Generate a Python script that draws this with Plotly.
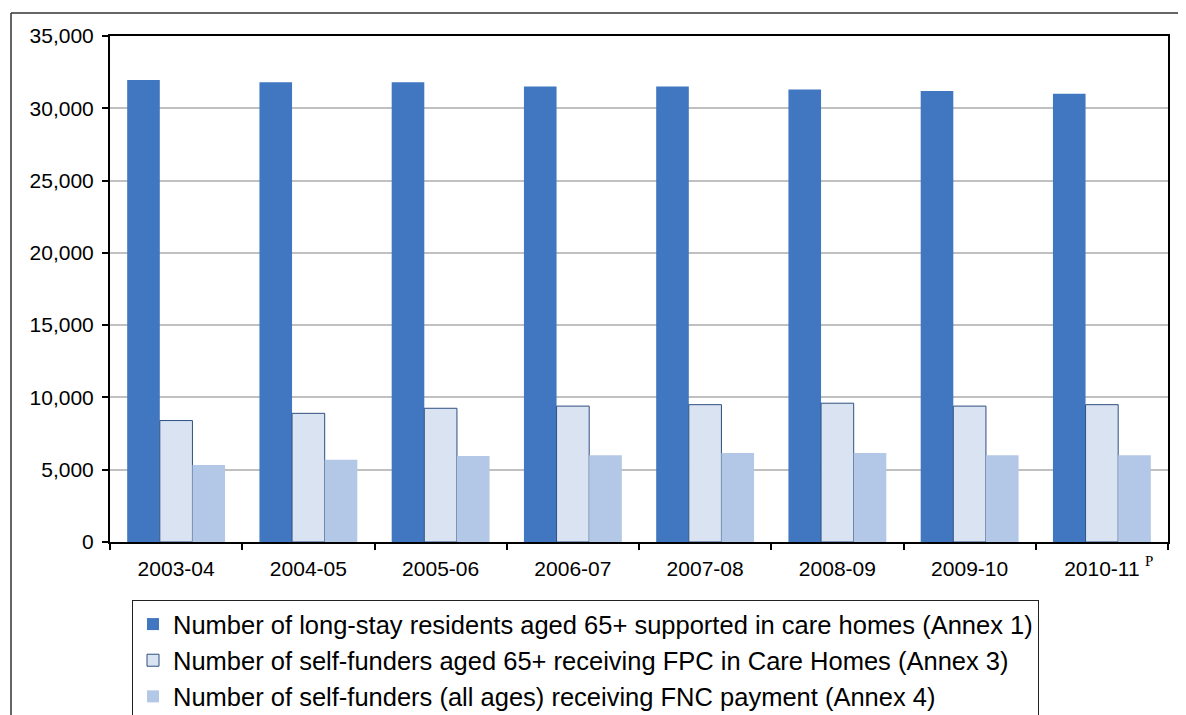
import plotly.graph_objects as go

years = ["2003-04", "2004-05", "2005-06", "2006-07", "2007-08", "2008-09", "2009-10", "2010-11"]
residents_65 = [31950, 31800, 31800, 31500, 31500, 31300, 31200, 31000]
fpc_self_funders = [8400, 8900, 9250, 9400, 9500, 9600, 9400, 9500]
fnc_self_funders = [5330, 5690, 5950, 6000, 6150, 6150, 6000, 6000]

names = [
    "Number of long-stay residents aged 65+ supported in care homes (Annex 1)",
    "Number of self-funders aged 65+ receiving FPC in Care Homes (Annex 3)",
    "Number of self-funders (all ages) receiving FNC payment (Annex 4)",
]
y_ticks = [0, 5000, 10000, 15000, 20000, 25000, 30000, 35000]

FONT = "Arial, Liberation Sans, sans-serif"
OFF = 8  # page body margin
W, H = 1186 - OFF, 715 - OFF
L, R, T, B = 110 - OFF, 18, 36 - OFF, 173
pw, ph = W - L - R, H - T - B

def px_x(x):
    return (x - OFF - L) / pw

def px_y(y):
    return (H - B - (y - OFF)) / ph

fig = go.Figure()
fig.add_bar(x=years, y=residents_65, name=names[0], legendgroup="a",
            marker=dict(color="#4177C1", line=dict(width=0)))
fig.add_bar(x=years, y=fpc_self_funders, name=names[1], legendgroup="b",
            marker=dict(color="#D9E3F1", line=dict(color="#2F4F80", width=1)))
fig.add_bar(x=years, y=fnc_self_funders, name=names[2], legendgroup="c",
            marker=dict(color="#B3C7E6", line=dict(width=0)))

fig.update_layout(
    width=W, height=H,
    margin=dict(l=L, r=R, t=T, b=B, autoexpand=False),
    paper_bgcolor="white", plot_bgcolor="white",
    barmode="group", bargap=0.26, bargroupgap=0,
    font=dict(family=FONT, size=21, color="black"),
    showlegend=True,
    legend=dict(
        x=px_x(132), y=px_y(600), xanchor="left", yanchor="top",
        bordercolor="#222222", borderwidth=1, bgcolor="white",
        font=dict(family=FONT, size=25.5, color="black"),
        tracegroupgap=0, traceorder="grouped",
    ),
    xaxis=dict(
        type="category", showgrid=False, tickson="boundaries",
        ticks="outside", ticklen=6, tickcolor="black", tickwidth=1.5,
        showline=True, linecolor="black", linewidth=2, mirror=True,
        tickfont=dict(family=FONT, size=21, color="black"),
        ticklabelstandoff=7,
    ),
    yaxis=dict(
        range=[0, 35000], tickvals=y_ticks,
        ticktext=[f"{v:,}" for v in y_ticks],
        showgrid=True, gridcolor="#C0C0C0", gridwidth=1.5,
        ticks="outside", ticklen=6, tickcolor="black", tickwidth=1.5,
        showline=True, linecolor="black", linewidth=2, mirror=True,
        tickfont=dict(family=FONT, size=21, color="black"),
        ticklabelstandoff=4,
        zeroline=False,
    ),
    shapes=[
        dict(type="line", xref="paper", yref="paper",
             x0=px_x(11), x1=px_x(11), y0=px_y(13), y1=px_y(720),
             line=dict(color="#333333", width=1.5)),
        dict(type="line", xref="paper", yref="paper",
             x0=px_x(11), x1=px_x(1190), y0=px_y(13), y1=px_y(13),
             line=dict(color="#333333", width=1.5)),
    ],
    annotations=[
        dict(text="P", x=years[-1], xref="x", y=px_y(561), yref="paper",
             xanchor="left", yanchor="middle", xshift=41, showarrow=False,
             font=dict(family="Liberation Serif, Times New Roman, serif", size=15, color="black")),
    ],
)

fig.write_html("out.html")
